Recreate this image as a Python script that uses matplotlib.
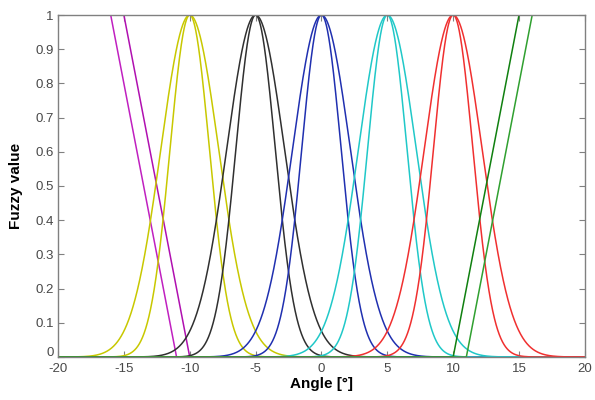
import numpy as np
import matplotlib
matplotlib.use("Agg")
import matplotlib.pyplot as plt
import matplotlib.transforms as mtransforms

plt.rcParams['font.family'] = ['Liberation Sans', 'DejaVu Sans']
plt.rcParams['axes.unicode_minus'] = False

# Gaussian membership functions: centre, narrow and wide spread, colour
centers = [-10, -5, 0, 5, 10]
sigma_narrow = [1.5, 1.5, 1.5, 1.5, 1.5]
sigma_wide = [2.2, 2.2, 2.2, 2.2, 2.2]
gauss_colors = ['#c8c800', '#303030', '#2030b0', '#20c8c8', '#f03030']

# Shoulder (ramp) functions: x where value is 1, x where value is 0
left_top = [-16, -15]
left_zero = [-11, -10]
right_zero = [10, 11]
right_top = [15, 16]
left_colors = ['#c020c0', '#b010b0']
right_colors = ['#108010', '#30a030']

xticks = [-20, -15, -10, -5, 0, 5, 10, 15, 20]
yticks = [0, 0.1, 0.2, 0.3, 0.4, 0.5, 0.6, 0.7, 0.8, 0.9, 1]
ytick_labels = ['0', '0.1', '0.2', '0.3', '0.4', '0.5', '0.6', '0.7', '0.8', '0.9', '1']

fig = plt.figure(figsize=(5.95, 4.0), dpi=100)
ax = fig.add_axes([0.0975, 0.1075, 0.8855, 0.855])

x = np.linspace(-20, 20, 2001)
lw = 1.1

for xt, xz, c in zip(left_top, left_zero, left_colors):
    y = np.clip((xz - x) / (xz - xt), 0, 1.2)
    ax.plot(x, y, color=c, lw=lw)

for c0, sn, sw, c in zip(centers, sigma_narrow, sigma_wide, gauss_colors):
    ax.plot(x, np.exp(-(x - c0) ** 2 / (2 * sn ** 2)), color=c, lw=lw)
    ax.plot(x, np.exp(-(x - c0) ** 2 / (2 * sw ** 2)), color=c, lw=lw)

for xz, xt, c in zip(right_zero, right_top, right_colors):
    y = np.clip((x - xz) / (xt - xz), 0, 1.2)
    ax.plot(x, y, color=c, lw=lw)

ax.set_xlim(-20, 20)
ax.set_ylim(0, 1)
ax.set_xticks(xticks)
ax.set_yticks(yticks)
ax.set_yticklabels(ytick_labels)
ax.tick_params(direction='in', top=True, right=True, length=4, width=0.8,
               colors='#808080', labelcolor='#484848', labelsize=9.5)
ax.tick_params(axis='x', pad=4.5)
ax.tick_params(axis='y', pad=3)
for lab in ax.get_xticklabels() + ax.get_yticklabels():
    lab.set_fontweight('medium')

# lift the bottom y label a little so it clears the first x label
zero_lab = ax.get_yticklabels()[0]
zero_lab.set_transform(zero_lab.get_transform() +
                       mtransforms.ScaledTranslation(0, 4 / 72, fig.dpi_scale_trans))

for s in ax.spines.values():
    s.set_color('#808080')
    s.set_linewidth(1.0)

ax.set_xlabel('Angle [°]', fontsize=11, fontweight='bold', labelpad=1)
ax.set_ylabel('Fuzzy value', fontsize=11, fontweight='bold', labelpad=9)

fig.savefig('out.png', dpi=100)
